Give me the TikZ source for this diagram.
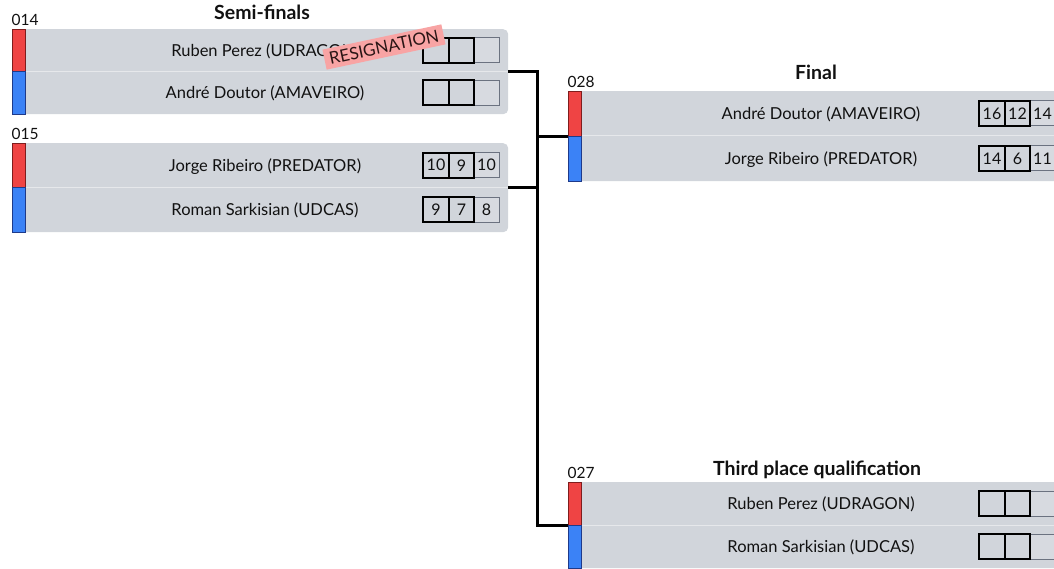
\documentclass[tikz,border=0pt]{standalone}
\usepackage{fontspec}
\setmainfont{Lato}
\usetikzlibrary{calc}
\definecolor{boxgray}{HTML}{D1D5DB}
\definecolor{boxlight}{HTML}{D7DAE0}
\definecolor{pred}{HTML}{EF4444}
\definecolor{pblue}{HTML}{3B82F6}
\definecolor{darkred}{HTML}{7F1D1D}
\definecolor{darkblue}{HTML}{1E3A8A}
\definecolor{txt}{HTML}{111111}
\definecolor{resignfill}{HTML}{F8A4A4}
\definecolor{resigntxt}{HTML}{2A1515}
\definecolor{thingray}{HTML}{6B7280}

\tikzset{
  matchbox/.style={fill=boxgray, rounded corners=5pt, minimum width=488, inner sep=0, draw=none},
  rowline/.style={draw=white!45!boxgray, line width=1},
  barred/.style={fill=pred, draw=darkred, line width=0.9, minimum width=12.5, inner sep=0},
  barblue/.style={fill=pblue, draw=darkblue, line width=0.9, minimum width=12.5, inner sep=0},
  idlabel/.style={font=\fontsize{15.5}{16}\selectfont, text=txt, inner sep=0},
  player/.style={font=\fontsize{16.5}{18}\selectfont, text=txt, inner sep=0, anchor=base},
  roundtitle/.style={font=\bfseries\fontsize{19.5}{21}\selectfont, text=txt, inner sep=0, anchor=base},
  sbox/.style={draw=black, line width=1.6, minimum width=25.5, minimum height=25, inner sep=0, font=\fontsize{16}{16}\selectfont, text=txt},
  sboxthin/.style={draw=thingray, fill=boxlight, line width=1, minimum width=25.5, minimum height=25, inner sep=0, font=\fontsize{16}{16}\selectfont, text=txt},
  conn/.style={draw=black, line width=3},
  resign/.style={fill=resignfill, text=resigntxt, font=\fontsize{17}{17}\selectfont, inner xsep=5, inner ysep=4},
}

% #1 id, #2 x0, #3 y0 (top), #4 height, #5 player 1, #6 player 2
\newcommand\drawmatch[6]{%
  \pgfmathsetmacro\mysplit{#3+#4/2}%
  \pgfmathsetmacro\myhalf{#4/2}%
  \pgfmathsetmacro\rowA{(#3+\mysplit)/2}%
  \pgfmathsetmacro\rowB{(\mysplit+#3+#4)/2}%
  \node[matchbox, minimum height=#4, anchor=north west] (m#1) at (#2+8,#3) {};
  \draw[rowline] (#2+13,\mysplit) -- (#2+496,\mysplit);
  \node[barred, minimum height=\myhalf, anchor=north west] (r#1) at (#2,#3) {};
  \node[barblue, minimum height=\myhalf, anchor=north west] (b#1) at (#2,\mysplit) {};
  \node[idlabel, anchor=base west] (l#1) at (#2-0.5,#3-3.5) {#1};
  \node[player] (p#1a) at (#2+253,\rowA+6) {#5};
  \node[player] (p#1b) at (#2+253,\rowB+6) {#6};
}
% #1 name prefix, #2 x0, #3 y centre, #4 #5 #6 scores
\newcommand\scorerow[6]{%
  \node[sboxthin] (#1c) at (#2+474.5,#3) {#6};
  \node[sbox] (#1b) at (#2+449.5,#3) {#5};
  \node[sbox] (#1a) at (#2+424,#3) {#4};
}

\begin{document}
\begin{tikzpicture}[x=1pt,y=-1pt]
\useasboundingbox (0,0) rectangle (1054,569);
\clip (0,0) rectangle (1054,569);

% titles
\node[roundtitle] (tsemi) at (262,20) {Semi-finals};
\node[roundtitle] (tfinal) at (816,80) {Final};
\node[roundtitle] (tthird) at (817,475) {Third place qualification};

% match 014
\drawmatch{014}{12}{29}{85}{Ruben Perez (UDRAGON)}{André Doutor (AMAVEIRO)}
\scorerow{s014a}{12}{\rowA}{}{}{}
\scorerow{s014b}{12}{\rowB}{}{}{}

% match 015
\drawmatch{015}{12}{143}{89}{Jorge Ribeiro (PREDATOR)}{Roman Sarkisian (UDCAS)}
\scorerow{s015a}{12}{\rowA}{10}{9}{10}
\scorerow{s015b}{12}{\rowB}{9}{7}{8}

% match 028 (final)
\drawmatch{028}{568}{91}{90}{André Doutor (AMAVEIRO)}{Jorge Ribeiro (PREDATOR)}
\scorerow{s028a}{568}{\rowA}{16}{12}{14}
\scorerow{s028b}{568}{\rowB}{14}{6}{11}

% match 027 (third place)
\drawmatch{027}{568}{482}{86}{Ruben Perez (UDRAGON)}{Roman Sarkisian (UDCAS)}
\scorerow{s027a}{568}{\rowA}{}{}{}
\scorerow{s027b}{568}{\rowB}{}{}{}

% resignation tag
\node[resign, rotate=12] (res014) at (384,47) {RESIGNATION};

% connectors
\coordinate (jx) at (537,0);
\draw[conn] (m014.east) -- (m014.east -| jx) |- (r027.south west);
\draw[conn] (m015.east) -- (m015.east -| jx);
\draw[conn] (r028.south west -| jx) -- (r028.south west);
\end{tikzpicture}
\end{document}
